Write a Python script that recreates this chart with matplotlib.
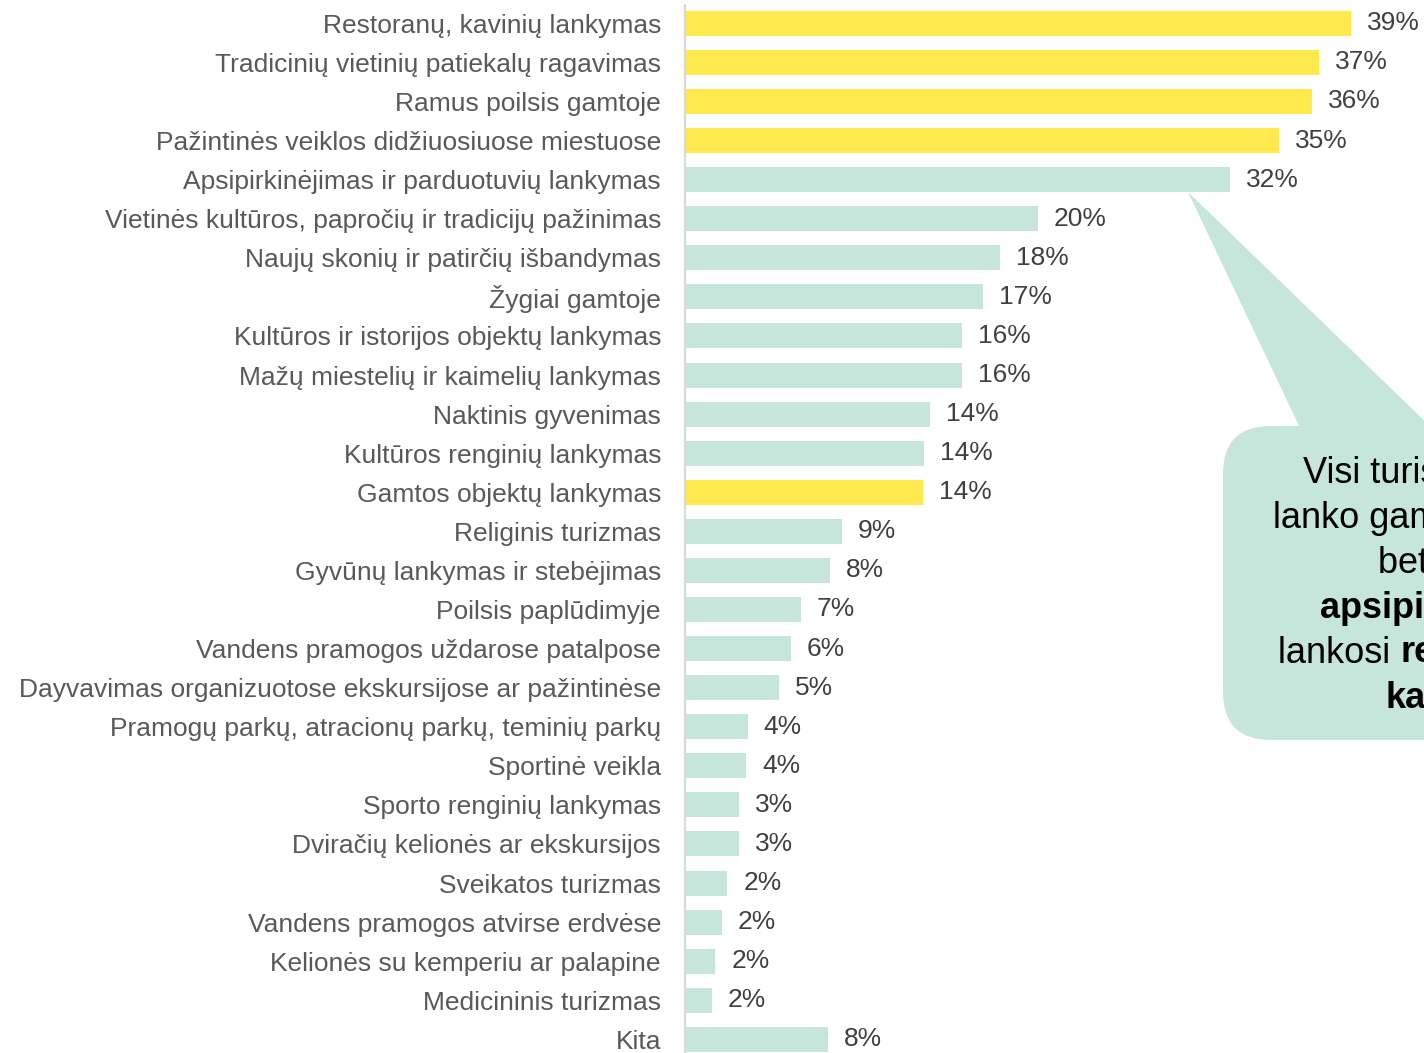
import matplotlib
matplotlib.use("Agg")
import matplotlib.pyplot as plt
from matplotlib.patches import FancyBboxPatch, Polygon
from matplotlib.transforms import IdentityTransform
from matplotlib.lines import Line2D

plt.rcParams['font.family'] = ['Liberation Sans', 'DejaVu Sans']

categories = [
    "Restoranų, kavinių lankymas",
    "Tradicinių vietinių patiekalų ragavimas",
    "Ramus poilsis gamtoje",
    "Pažintinės veiklos didžiuosiuose miestuose",
    "Apsipirkinėjimas ir parduotuvių lankymas",
    "Vietinės kultūros, papročių ir tradicijų pažinimas",
    "Naujų skonių ir patirčių išbandymas",
    "Žygiai gamtoje",
    "Kultūros ir istorijos objektų lankymas",
    "Mažų miestelių ir kaimelių lankymas",
    "Naktinis gyvenimas",
    "Kultūros renginių lankymas",
    "Gamtos objektų lankymas",
    "Religinis turizmas",
    "Gyvūnų lankymas ir stebėjimas",
    "Poilsis paplūdimyje",
    "Vandens pramogos uždarose patalpose",
    "Dayvavimas organizuotose ekskursijose ar pažintinėse",
    "Pramogų parkų, atracionų parkų, teminių parkų",
    "Sportinė veikla",
    "Sporto renginių lankymas",
    "Dviračių kelionės ar ekskursijos",
    "Sveikatos turizmas",
    "Vandens pramogos atvirse erdvėse",
    "Kelionės su kemperiu ar palapine",
    "Medicininis turizmas",
    "Kita",
]
values = [38.8, 36.9, 36.5, 34.6, 31.7, 20.5, 18.3, 17.3, 16.1, 16.1, 14.2, 13.9,
          13.8, 9.1, 8.4, 6.7, 6.1, 5.4, 3.6, 3.5, 3.1, 3.1, 2.4, 2.1, 1.7, 1.5, 8.3]
value_labels = ["39%", "37%", "36%", "35%", "32%", "20%", "18%", "17%", "16%", "16%",
                "14%", "14%", "14%", "9%", "8%", "7%", "6%", "5%", "4%", "4%", "3%",
                "3%", "2%", "2%", "2%", "2%", "8%"]
highlighted = [0, 1, 2, 3, 12]

callout_lines = [
    [("Visi turistai", "normal")],
    [("lanko gamtos objektus,", "normal")],
    [("bet daugiausia", "normal")],
    [("apsipirkinėja,", "bold")],
    [("lankosi ", "normal"), ("restoranuose,", "bold")],
    [("kavinėse", "bold")],
]

YELLOW = "#FFE94D"
MINT = "#C6E6DB"

W, H = 1424, 1053
fig = plt.figure(figsize=(W / 100, H / 100), dpi=100)
x0 = 686
scale = 17.15
pitch = 39.08
row0 = 23.3
ax = fig.add_axes([x0 / W, 0, 1 - x0 / W, 1])
n = len(categories)
ax.set_xlim(0, (W - x0) / scale)
top = -row0 / pitch
bottom = (H - row0) / pitch
ax.set_ylim(bottom, top)

colors = [YELLOW if i in highlighted else MINT for i in range(n)]
ax.barh(range(n), values, height=0.64, color=colors, linewidth=0)
for i, (v, lab) in enumerate(zip(values, value_labels)):
    ax.text(v + 16 / scale, i, lab, ha="left", va="center", fontsize=19, color="#404040")

ax.set_yticks(range(n))
ax.set_yticklabels(categories, fontsize=19, color="#595959")
ax.tick_params(axis="y", length=0, pad=18)
ax.set_xticks([])
for s in ax.spines.values():
    s.set_visible(False)

# vertical axis line
fig.add_artist(Line2D([685 / W, 685 / W], [0, 1 - 5 / H], transform=fig.transFigure,
                      color="#D9D9D9", lw=1.6))

# callout
T = IdentityTransform()
bx0, by_top, by_bot = 1223, 426, 740
box = FancyBboxPatch((bx0, H - by_bot), 500, by_bot - by_top,
                     boxstyle="round,pad=0,rounding_size=48",
                     transform=T, facecolor=MINT, edgecolor="none", zorder=5)
fig.add_artist(box)
ptr = Polygon([(1188, H - 192), (1302, H - 432), (1436, H - 432)], closed=True,
              transform=T, facecolor=MINT, edgecolor="none", zorder=5)
fig.add_artist(ptr)

starts = [1303, 1273, 1378, 1320, 1278, 1385]
fig.canvas.draw()
renderer = fig.canvas.get_renderer()
for k, (parts, sx) in enumerate(zip(callout_lines, starts)):
    by = H - (483 + 45 * k)
    cx = sx
    for txt, wgt in parts:
        t = fig.text(cx, by, txt, transform=T, ha="left", va="baseline",
                     fontsize=26, fontweight=wgt, color="#000000", zorder=6)
        bb = t.get_window_extent(renderer)
        cx = bb.x1

fig.savefig("out.png", dpi=100)
